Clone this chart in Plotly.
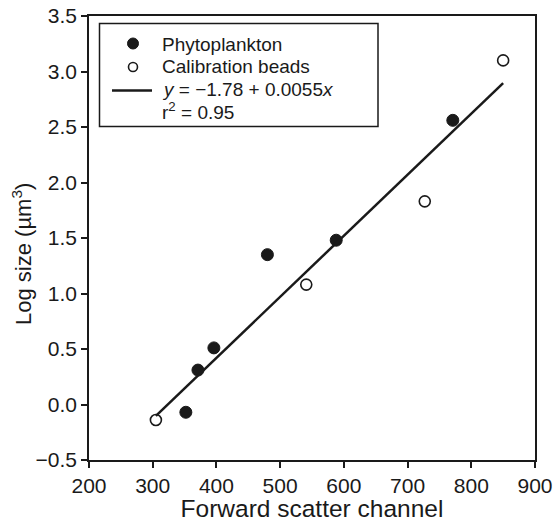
import plotly.graph_objects as go

phyto_x = [352, 371, 396, 480, 588, 771]
phyto_y = [-0.07, 0.31, 0.51, 1.35, 1.48, 2.56]
beads_x = [305, 541, 727, 850]
beads_y = [-0.14, 1.08, 1.83, 3.10]
fit_intercept = -1.78
fit_slope = 0.0055
x_ticks = [200, 300, 400, 500, 600, 700, 800, 900]
y_ticks = [-0.5, 0.0, 0.5, 1.0, 1.5, 2.0, 2.5, 3.0, 3.5]
legend_labels = ["Phytoplankton", "Calibration beads",
                 "<i>y</i> = \u22121.78 + 0.0055<i>x</i>", "r<sup>2</sup> = 0.95"]

all_x = phyto_x + beads_x
fit_x = [min(all_x), max(all_x)]
fit_y = [fit_intercept + fit_slope * v for v in fit_x]

FONT = "Liberation Sans, Arial, Helvetica, sans-serif"
INK = "#1a1a1a"
W, H = 553, 522
L, R, T, B = 89, 18, 16, 62

def px_x(p):
    return (p - L) / (W - L - R)

def px_y(p):
    return 1 - (p - T) / (H - T - B)

fig = go.Figure()
fig.add_trace(go.Scatter(x=phyto_x, y=phyto_y, mode="markers", name="Phytoplankton",
                         marker=dict(color=INK, size=12, line=dict(color=INK, width=1))))
fig.add_trace(go.Scatter(x=beads_x, y=beads_y, mode="markers", name="Calibration beads",
                         marker=dict(color="white", size=11, line=dict(color=INK, width=1.6))))
fig.add_trace(go.Scatter(x=fit_x, y=fit_y, mode="lines", name="fit",
                         line=dict(color=INK, width=2.5)))

axis_common = dict(showline=True, linecolor=INK, linewidth=1.5, mirror=True,
                   ticks="outside", ticklen=6, tickwidth=1.5, tickcolor=INK,
                   showgrid=False, zeroline=False, automargin=False,
                   tickfont=dict(size=21, color=INK, family=FONT))

# legend (drawn by hand inside a box)
LEG = 19
shapes = [
    dict(type="rect", xref="paper", yref="paper",
         x0=px_x(99.5), x1=px_x(378), y0=px_y(126.5), y1=px_y(23.5),
         line=dict(color=INK, width=1.5), fillcolor="white", layer="above"),
    dict(type="circle", xref="paper", yref="paper", xsizemode="pixel", ysizemode="pixel",
         xanchor=px_x(133), yanchor=px_y(43.5), x0=-5.5, x1=5.5, y0=-5.5, y1=5.5,
         fillcolor=INK, line=dict(color=INK, width=1), layer="above"),
    dict(type="circle", xref="paper", yref="paper", xsizemode="pixel", ysizemode="pixel",
         xanchor=px_x(133), yanchor=px_y(67), x0=-4.5, x1=4.5, y0=-4.5, y1=4.5,
         fillcolor="white", line=dict(color=INK, width=1.6), layer="above"),
    dict(type="line", xref="paper", yref="paper",
         x0=px_x(112), x1=px_x(152), y0=px_y(90.5), y1=px_y(90.5),
         line=dict(color=INK, width=2.5), layer="above"),
]
row_y = [44, 66.5, 90, 111.5]
annotations = [
    dict(text=t, xref="paper", yref="paper", x=px_x(160), y=px_y(yy),
         xanchor="left", yanchor="middle", showarrow=False,
         font=dict(size=LEG, family=FONT, color=INK))
    for t, yy in zip(legend_labels, row_y)
]
annotations.append(dict(text="Log size (\u00b5m<sup>3</sup>)", textangle=-90,
                        xref="paper", yref="paper", x=px_x(22), y=px_y(254),
                        xanchor="center", yanchor="middle", showarrow=False,
                        font=dict(size=22, family=FONT, color=INK)))

fig.update_layout(
    width=W, height=H,
    margin=dict(l=L, r=R, t=T, b=B),
    plot_bgcolor="white", paper_bgcolor="white",
    font=dict(family=FONT, color=INK),
    showlegend=False,
    xaxis=dict(range=[200, 900], tickvals=x_ticks, ticktext=[str(v) for v in x_ticks],
               title=dict(text="Forward scatter channel", font=dict(size=24.5, color=INK), standoff=7),
               **axis_common),
    yaxis=dict(range=[-0.5, 3.5], tickvals=y_ticks,
               ticktext=[f"{v:.1f}".replace("-", "\u2212") for v in y_ticks],
               **axis_common),
    shapes=shapes,
    annotations=annotations,
)

fig.write_html("out.html")
